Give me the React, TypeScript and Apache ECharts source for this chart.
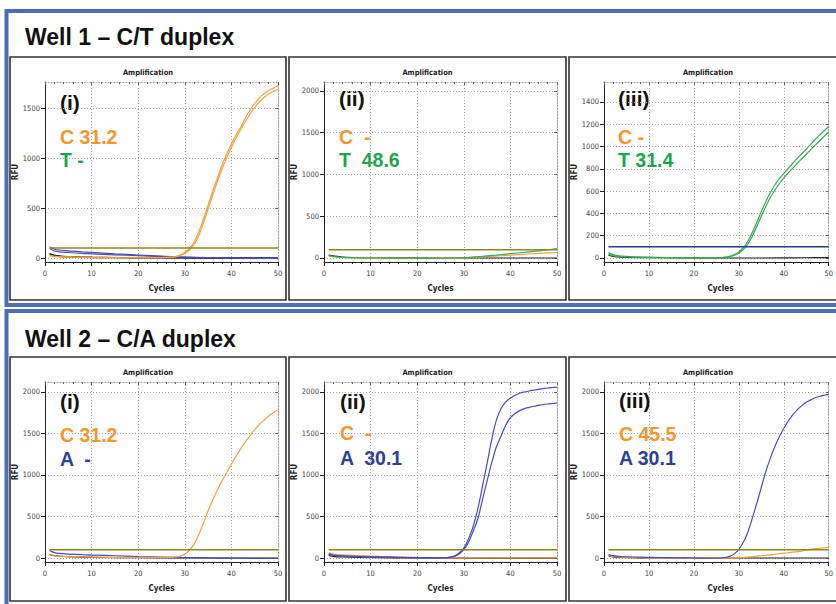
import React, { useEffect, useRef } from "react";
import * as echarts from "echarts";

type Pt = [number, number];

// ---------- tick labels ----------
const CYCLE_TICK_STEP = 10;
const RFU_TICKS_1500 = [0, 500, 1000, 1500];
const RFU_TICKS_2000 = [0, 500, 1000, 1500, 2000];
const RFU_TICKS_1400 = [0, 200, 400, 600, 800, 1000, 1200, 1400];

// ---------- texts ----------
const WELL_TITLES = ["Well 1 \u2013 C/T duplex", "Well 2 \u2013 C/A duplex"];
const PANEL_NUMS = ["(i)", "(ii)", "(iii)"];
const W1_CALLS = [["C 31.2", "T -"], ["C  -", "T  48.6"], ["C -", "T 31.4"]];
const W2_CALLS = [["C 31.2", "A  -"], ["C  -", "A  30.1"], ["C 45.5", "A 30.1"]];
const THRESHOLD = 100;

// ---------- Well 1 (i) ----------
const W1I_ORANGE_A: Pt[] = [[1,25],[3,15],[6,10],[10,7],[15,5],[20,4],[25,4],[27,8],[28,15],[29,30],[30,55],[31,95],[32,160],[33,260],[34,390],[35,530],[36,670],[37,800],[38,930],[39,1040],[40,1140],[41,1230],[42,1310],[43,1400],[44,1480],[45,1545],[46,1600],[47,1640],[48,1675],[49,1700],[50,1722]];
const W1I_ORANGE_B: Pt[] = [[1,20],[3,12],[6,8],[10,5],[15,4],[20,3],[25,3],[27,6],[28,12],[29,24],[30,45],[31,80],[32,135],[33,225],[34,350],[35,490],[36,630],[37,765],[38,890],[39,1005],[40,1105],[41,1200],[42,1285],[43,1365],[44,1440],[45,1505],[46,1560],[47,1605],[48,1640],[49,1665],[50,1685]];
const W1I_BLUE_A: Pt[] = [[1,112],[2,88],[3,80],[5,72],[8,62],[10,56],[15,42],[20,30],[25,18],[30,8],[35,3],[40,2],[45,2],[50,2]];
const W1I_BLUE_B: Pt[] = [[1,95],[2,70],[3,62],[5,55],[8,46],[10,42],[15,32],[20,23],[25,15],[30,8],[35,3],[40,0],[45,-2],[50,-4]];
const W1I_BLACK_A: Pt[] = [[1,45],[2,30],[3,22],[5,15],[8,10],[10,8],[15,5],[20,3],[30,2],[40,1],[50,0]];
const W1I_BLACK_B: Pt[] = [[1,35],[2,22],[4,12],[8,6],[12,4],[20,2],[30,0],[50,-2]];

// ---------- Well 1 (ii) ----------
const W1II_ORANGE: Pt[] = [[1,22],[2,12],[4,6],[8,2],[15,0],[20,-2],[25,-2],[30,2],[33,10],[36,20],[40,34],[44,48],[47,58],[50,66]];
const W1II_GREEN: Pt[] = [[1,32],[2,20],[4,8],[8,2],[15,-2],[20,-4],[25,-3],[28,0],[31,8],[34,20],[37,35],[40,52],[43,68],[46,85],[48,96],[50,112]];
const W1II_BLACK: Pt[] = [[1,35],[2,25],[4,12],[8,5],[15,2],[25,0],[35,0],[50,0]];

// ---------- Well 1 (iii) ----------
const W1III_GREEN_A: Pt[] = [[1,48],[2,30],[3,22],[5,15],[8,10],[12,6],[16,3],[20,2],[24,2],[26,4],[27,8],[28,16],[29,30],[30,55],[31,92],[32,150],[33,228],[34,320],[35,415],[36,505],[37,585],[38,655],[39,712],[40,760],[41,805],[42,850],[43,893],[44,935],[45,977],[46,1020],[47,1063],[48,1103],[49,1142],[50,1180]];
const W1III_GREEN_B: Pt[] = [[1,35],[2,20],[3,14],[5,10],[8,6],[12,3],[16,1],[20,0],[24,0],[26,2],[27,5],[28,12],[29,24],[30,45],[31,76],[32,125],[33,195],[34,283],[35,375],[36,462],[37,540],[38,608],[39,666],[40,716],[41,762],[42,806],[43,849],[44,890],[45,931],[46,972],[47,1012],[48,1052],[49,1092],[50,1130]];
const W1III_BLACK: Pt[] = [[1,25],[2,15],[4,8],[8,4],[15,2],[25,0],[35,0],[45,2],[50,4]];

// ---------- Well 2 (i) ----------
const W2I_ORANGE: Pt[] = [[1,40],[2,28],[3,22],[5,16],[8,12],[12,9],[16,7],[20,6],[24,5],[27,7],[28,12],[29,22],[30,45],[31,95],[32,170],[33,280],[34,420],[35,570],[36,700],[37,820],[38,930],[39,1030],[40,1130],[41,1225],[42,1315],[43,1400],[44,1475],[45,1545],[46,1610],[47,1660],[48,1710],[49,1750],[50,1785]];
const W2I_BLUE: Pt[] = [[1,92],[2,65],[3,55],[5,48],[8,40],[10,36],[15,27],[20,18],[25,12],[30,6],[35,2],[40,-2],[45,-4],[50,-6]];
const W2I_BLACK: Pt[] = [[1,40],[2,28],[4,18],[8,10],[12,6],[20,3],[30,1],[40,0],[50,0]];

// ---------- Well 2 (ii) ----------
const W2II_BLUE_A: Pt[] = [[1,50],[2,36],[4,26],[8,18],[12,12],[16,8],[20,5],[24,2],[26,3],[27,10],[28,25],[29,60],[30,120],[31,230],[32,380],[33,590],[34,860],[35,1140],[36,1430],[37,1660],[38,1800],[39,1880],[40,1925],[41,1960],[42,1985],[43,2000],[44,2012],[45,2022],[46,2032],[47,2040],[48,2048],[49,2054],[50,2060]];
const W2II_BLUE_B: Pt[] = [[1,45],[2,32],[4,22],[8,15],[12,10],[16,6],[20,4],[24,2],[26,3],[27,8],[28,20],[29,48],[30,100],[31,190],[32,320],[33,470],[34,700],[35,930],[36,1150],[37,1340],[38,1470],[39,1600],[40,1690],[41,1740],[42,1775],[43,1800],[44,1815],[45,1828],[46,1838],[47,1847],[48,1855],[49,1861],[50,1867]];
const W2II_ORANGE: Pt[] = [[1,62],[2,48],[4,38],[8,28],[12,20],[16,14],[20,8],[24,4],[28,1],[32,0],[40,0],[50,0]];
const W2II_BLACK: Pt[] = [[1,30],[2,20],[4,12],[8,6],[15,2],[25,0],[50,-2]];

// ---------- Well 2 (iii) ----------
const W2III_BLUE: Pt[] = [[1,42],[2,28],[4,18],[8,10],[12,6],[16,3],[20,0],[24,-3],[26,0],[27,6],[28,20],[29,50],[30,105],[31,190],[32,310],[33,480],[34,660],[35,850],[36,1040],[37,1200],[38,1340],[39,1460],[40,1560],[41,1650],[42,1725],[43,1785],[44,1835],[45,1875],[46,1905],[47,1930],[48,1948],[49,1960],[50,1970]];
const W2III_ORANGE: Pt[] = [[1,30],[2,18],[4,10],[8,4],[15,0],[22,-2],[28,0],[30,4],[32,12],[34,22],[36,33],[38,45],[40,58],[42,70],[44,84],[45,94],[46,104],[48,116],[50,128]];
const W2III_BLACK: Pt[] = [[1,25],[2,14],[4,6],[8,2],[15,0],[50,0]];

// ---------- styling ----------
const ORANGE = "#f0a040";
const GREEN = "#3aaa55";
const BLUE = "#4a4cb5";
const BLACK = "#1e1e1e";
const OLIVE = "#8a8a1c";
const NAVY = "#1f3d8a";
const TXT_ORANGE = "#f5952a";
const TXT_GREEN = "#1ba550";
const TXT_BLUE = "#2e3f98";
const FRAME_BLUE = "#4a6db5";
const NARROW = "'Liberation Sans Narrow', 'DejaVu Sans Condensed', 'Liberation Sans', sans-serif";
const SANS = "'Liberation Sans', Arial, sans-serif";

type Curve = { data: Pt[]; color: string; width?: number };

type Panel = {
  left: number; top: number; width: number; height: number;
  ymin: number; ymax: number; ticks: number[];
  thrColor: string; curves: Curve[];
};

const TOP_Y = 82, BOT_Y = 382, PLOT_H = 180, PLOT_W = 233;
const COL_X = [45, 324, 604];

const PANELS: Panel[] = [
  { left: COL_X[0], top: TOP_Y, width: PLOT_W, height: PLOT_H, ymin: -40, ymax: 1760, ticks: RFU_TICKS_1500, thrColor: OLIVE,
    curves: [ { data: W1I_BLACK_A, color: BLACK }, { data: W1I_BLACK_B, color: BLACK }, { data: W1I_BLUE_A, color: BLUE }, { data: W1I_BLUE_B, color: BLUE },
      { data: W1I_ORANGE_A, color: ORANGE }, { data: W1I_ORANGE_B, color: ORANGE } ] },
  { left: COL_X[1], top: TOP_Y, width: PLOT_W, height: PLOT_H, ymin: -48, ymax: 2107, ticks: RFU_TICKS_2000, thrColor: OLIVE,
    curves: [ { data: W1II_BLACK, color: BLACK }, { data: W1II_ORANGE, color: ORANGE }, { data: W1II_GREEN, color: GREEN } ] },
  { left: COL_X[2], top: TOP_Y, width: PLOT_W, height: PLOT_H, ymin: -36, ymax: 1579, ticks: RFU_TICKS_1400, thrColor: NAVY,
    curves: [ { data: W1III_BLACK, color: BLACK }, { data: W1III_GREEN_A, color: GREEN }, { data: W1III_GREEN_B, color: GREEN } ] },
  { left: COL_X[0], top: BOT_Y, width: PLOT_W, height: PLOT_H, ymin: -48, ymax: 2120, ticks: RFU_TICKS_2000, thrColor: OLIVE,
    curves: [ { data: W2I_BLACK, color: BLACK }, { data: W2I_BLUE, color: BLUE }, { data: W2I_ORANGE, color: ORANGE } ] },
  { left: COL_X[1], top: BOT_Y, width: PLOT_W, height: PLOT_H, ymin: -48, ymax: 2120, ticks: RFU_TICKS_2000, thrColor: OLIVE,
    curves: [ { data: W2II_BLACK, color: BLACK }, { data: W2II_ORANGE, color: ORANGE }, { data: W2II_BLUE_A, color: BLUE }, { data: W2II_BLUE_B, color: BLUE } ] },
  { left: COL_X[2], top: BOT_Y, width: PLOT_W, height: PLOT_H, ymin: -48, ymax: 2120, ticks: RFU_TICKS_2000, thrColor: OLIVE,
    curves: [ { data: W2III_BLACK, color: BLACK }, { data: W2III_ORANGE, color: ORANGE }, { data: W2III_BLUE, color: BLUE } ] },
];

// frames (box positions)
const PANEL_BOX_X = [10, 289, 569];
const PANEL_BOX_W = [276, 277, 300];
const PANEL_BOX_Y = [57, 357];
const PANEL_BOX_H = [243, 244];

// annotation positions
const ANNOT = [
  { x: 60, y: [102, 137, 159.5] },
  { x: 339, y: [98.5, 136.5, 159.5] },
  { x: 618, y: [98.5, 136.5, 159.5] },
  { x: 60, y: [401.5, 435, 458.5] },
  { x: 340, y: [401, 432.5, 457.5] },
  { x: 619, y: [400, 433.5, 457.5] },
];

function buildOption() {
  const grid: any[] = [];
  const xAxis: any[] = [];
  const yAxis: any[] = [];
  const series: any[] = [];
  const graphic: any[] = [];
  const gridLine = { color: "#a8a8a8", type: [1, 2], width: 1 };
  const plain = (v: number) => String(v);

  PANELS.forEach((p, i) => {
    grid.push({ left: p.left, top: p.top, width: p.width, height: p.height, containLabel: false });
    xAxis.push({
      type: "value", gridIndex: i, min: 0, max: 50, interval: CYCLE_TICK_STEP, position: "bottom",
      axisLine: { onZero: false, lineStyle: { color: "#222", width: 1 } },
      axisTick: { show: true, length: 4, lineStyle: { color: "#222" } },
      minorTick: { show: true, splitNumber: 5, length: 2, lineStyle: { color: "#222" } },
      axisLabel: { fontSize: 7.5, color: "#444", margin: 7, fontFamily: NARROW, formatter: plain },
      splitLine: { show: true, lineStyle: gridLine },
    });
    xAxis.push({
      type: "value", gridIndex: i, min: 0, max: 50, interval: CYCLE_TICK_STEP, position: "top",
      axisLine: { onZero: false, lineStyle: { color: "#999", width: 1, type: [1, 2] } },
      axisTick: { show: true, inside: true, length: 3, lineStyle: { color: "#666" } },
      minorTick: { show: true, splitNumber: 5, length: 2, lineStyle: { color: "#666" } },
      axisLabel: { show: false }, splitLine: { show: false },
    });
    yAxis.push({
      type: "value", gridIndex: i, min: p.ymin, max: p.ymax, position: "left",
      axisLine: { show: true, onZero: false, lineStyle: { color: "#222", width: 1 } },
      axisTick: { show: true, length: 4, customValues: p.ticks, lineStyle: { color: "#222" } },
      axisLabel: { customValues: p.ticks, fontSize: 7.5, color: "#444", margin: 5, fontFamily: NARROW, formatter: plain },
      splitLine: { show: true, lineStyle: gridLine },
    });
    yAxis.push({
      type: "value", gridIndex: i, min: p.ymin, max: p.ymax, position: "right",
      axisLine: { show: true, onZero: false, lineStyle: { color: "#999", width: 1, type: [1, 2] } },
      axisTick: { show: true, inside: true, length: 3, customValues: p.ticks, lineStyle: { color: "#666" } },
      axisLabel: { show: false }, splitLine: { show: false },
    });
    p.curves.forEach((c) => {
      series.push({
        type: "line", xAxisIndex: 2 * i, yAxisIndex: 2 * i, data: c.data, showSymbol: false, symbol: "none",
        smooth: 0.35, silent: true, lineStyle: { color: c.color, width: c.width ?? 1.2 },
      });
    });
    series.push({
      type: "line", xAxisIndex: 2 * i, yAxisIndex: 2 * i, data: [[1, THRESHOLD], [50, THRESHOLD]],
      showSymbol: false, symbol: "none", silent: true, lineStyle: { color: p.thrColor, width: 1.5 },
    });
  });

  // blue frames
  graphic.push({ type: "rect", shape: { x: 6.5, y: 11, width: 900, height: 294 }, style: { fill: "none", stroke: FRAME_BLUE, lineWidth: 4 } });
  graphic.push({ type: "rect", shape: { x: 6.5, y: 311, width: 900, height: 400 }, style: { fill: "none", stroke: FRAME_BLUE, lineWidth: 4 } });
  // well titles
  WELL_TITLES.forEach((t, r) => {
    graphic.push({ type: "text", x: 25, y: r === 0 ? 37 : 339, style: { text: t, fill: "#111", fontSize: 23, fontWeight: "bold", fontFamily: SANS, verticalAlign: "middle", align: "left" } });
  });
  // panel boxes and small texts
  for (let r = 0; r < 2; r++) {
    for (let c = 0; c < 3; c++) {
      const bx = PANEL_BOX_X[c], by = PANEL_BOX_Y[r];
      graphic.push({ type: "rect", shape: { x: bx, y: by, width: PANEL_BOX_W[c], height: PANEL_BOX_H[r] }, style: { fill: "none", stroke: "#333", lineWidth: 1.6 } });
      const p = PANELS[r * 3 + c];
      const cx = c === 2 ? 708 : bx + PANEL_BOX_W[c] / 2;
      graphic.push({ type: "text", x: cx, y: p.top - 10, style: { text: "Amplification", fill: "#222", fontSize: 7.5, fontWeight: "bold", fontFamily: NARROW, align: "center", verticalAlign: "middle" } });
      graphic.push({ type: "text", x: p.left + p.width / 2, y: p.top + p.height + 26, style: { text: "Cycles", fill: "#222", fontSize: 8, fontWeight: "bold", fontFamily: NARROW, align: "center", verticalAlign: "middle" } });
      graphic.push({ type: "text", x: p.left - 30, y: p.top + p.height / 2, rotation: Math.PI / 2, style: { text: "RFU", fill: "#222", fontSize: 8, fontWeight: "bold", fontFamily: NARROW, align: "center", verticalAlign: "middle" } });
      const a = ANNOT[r * 3 + c];
      const calls = r === 0 ? W1_CALLS[c] : W2_CALLS[c];
      const secondColor = r === 0 ? TXT_GREEN : TXT_BLUE;
      graphic.push({ type: "text", x: a.x, y: a.y[0], style: { text: PANEL_NUMS[c], fill: "#111", fontSize: 21, fontWeight: "bold", fontFamily: SANS, verticalAlign: "middle" } });
      graphic.push({ type: "text", x: a.x, y: a.y[1], style: { text: calls[0], fill: TXT_ORANGE, fontSize: 19.5, fontWeight: "bold", fontFamily: SANS, verticalAlign: "middle" } });
      graphic.push({ type: "text", x: a.x, y: a.y[2], style: { text: calls[1], fill: secondColor, fontSize: 19.5, fontWeight: "bold", fontFamily: SANS, verticalAlign: "middle" } });
    }
  }

  return { animation: false, backgroundColor: "#ffffff", grid, xAxis, yAxis, series, graphic };
}

export default function App() {
  const ref = useRef<HTMLDivElement>(null);
  useEffect(() => {
    document.body.style.margin = "0";
    if (!ref.current) return;
    const chart = echarts.init(ref.current, null, { renderer: "svg", width: 836, height: 604 });
    chart.setOption(buildOption() as any);
    return () => chart.dispose();
  }, []);
  return <div ref={ref} style={{ width: 836, height: 604 }} />;
}
